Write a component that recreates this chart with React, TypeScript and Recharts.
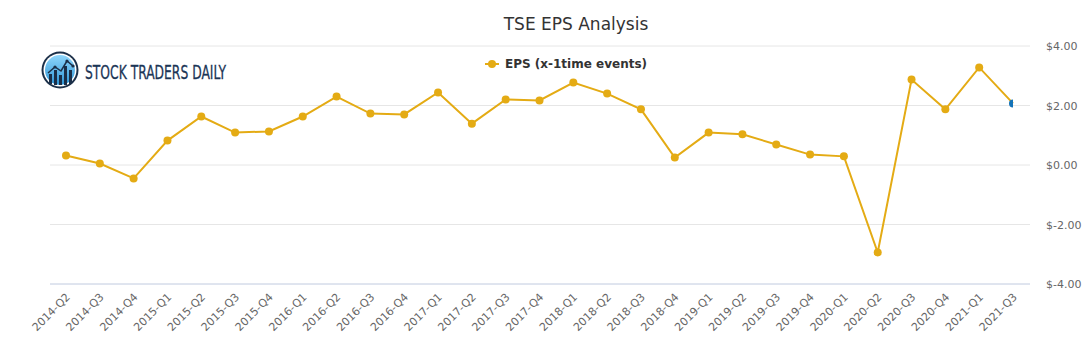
import React from 'react';
import { LineChart, Line, XAxis, YAxis, CartesianGrid } from 'recharts';

const quarters = [
  '2014-Q2', '2014-Q3', '2014-Q4', '2015-Q1', '2015-Q2', '2015-Q3', '2015-Q4',
  '2016-Q1', '2016-Q2', '2016-Q3', '2016-Q4', '2017-Q1', '2017-Q2', '2017-Q3',
  '2017-Q4', '2018-Q1', '2018-Q2', '2018-Q3', '2018-Q4', '2019-Q1', '2019-Q2',
  '2019-Q3', '2019-Q4', '2020-Q1', '2020-Q2', '2020-Q3', '2020-Q4', '2021-Q1', '2021-Q3',
];
const eps = [
  0.32, 0.05, -0.45, 0.82, 1.63, 1.09, 1.13,
  1.63, 2.3, 1.73, 1.7, 2.44, 1.39, 2.2,
  2.17, 2.77, 2.4, 1.87, 0.25, 1.09, 1.03,
  0.69, 0.35, 0.29, -2.94, 2.87, 1.87, 3.28, 2.07,
];
const yTicks = [-4, -2, 0, 2, 4];

const data = quarters.map((q, i) => ({ q, eps: eps[i] }));

const LINE = '#e4ab14';
const W = 1091;
const H = 350;

const fmt = (v: number) => (v < 0 ? `$-${Math.abs(v).toFixed(2)}` : `$${v.toFixed(2)}`);

const XTick = (props: any) => {
  const { x, y, payload } = props;
  return (
    <g transform={`translate(${x + 2},${y + 9})`}>
      <text
        x={0}
        y={0}
        dy="0.35em"
        textAnchor="end"
        transform="rotate(-45)"
        fill="#666"
        fontSize={11}
        fontFamily="DejaVu Sans, sans-serif"
      >
        {payload.value}
      </text>
    </g>
  );
};

const YTick = (props: any) => {
  const { x, y, payload } = props;
  return (
    <text
      x={x}
      y={y}
      dy="0.4em"
      textAnchor="start"
      fill="#666"
      fontSize={11}
      fontFamily="DejaVu Sans, sans-serif"
    >
      {fmt(payload.value)}
    </text>
  );
};

const Dot = (props: any) => {
  const { cx, cy, index } = props;
  if (index === data.length - 1) {
    const r = 4;
    return (
      <path
        key={`d${index}`}
        d={`M${cx},${cy - r} A${r},${r} 0 0 0 ${cx},${cy + r} Z`}
        fill="#1473b8"
      />
    );
  }
  return <circle key={`d${index}`} cx={cx} cy={cy} r={4} fill={LINE} />;
};

const Logo = () => (
  <g>
    <defs>
      <linearGradient id="lg" x1="0" y1="0" x2="0" y2="1">
        <stop offset="0%" stopColor="#8fd6fb" />
        <stop offset="100%" stopColor="#2e95d6" />
      </linearGradient>
    </defs>
    <circle cx={60} cy={70} r={18.5} fill="#1b2f48" />
    <circle cx={60} cy={70} r={16.5} fill="#ffffff" />
    <circle cx={60} cy={70} r={15} fill="url(#lg)" />
    <rect x={49} y={74} width={3} height={10} fill="#1b2f48" />
    <rect x={54} y={70} width={3} height={15} fill="#1b2f48" />
    <rect x={59} y={75} width={3} height={10} fill="#1b2f48" />
    <rect x={64} y={66} width={3} height={19} fill="#1b2f48" />
    <rect x={69} y={70} width={3} height={14} fill="#1b2f48" />
    <polyline points="48,73 55,67 61,71 67,61 73,66" fill="none" stroke="#1b2f48" strokeWidth={1.5} />
    <circle cx={55} cy={67} r={1.6} fill="#1b2f48" />
    <circle cx={67} cy={61} r={1.6} fill="#1b2f48" />
    <circle cx={73} cy={66} r={1.6} fill="#1b2f48" />
    <text
      x={85}
      y={78.5}
      fontSize={20}
      fontFamily="DejaVu Sans Condensed, DejaVu Sans, sans-serif"
      fill="#1b3556"
      stroke="#1b3556"
      strokeWidth={0.3}
      textLength={141}
      lengthAdjust="spacingAndGlyphs"
    >
      STOCK TRADERS DAILY
    </text>
  </g>
);

export default function App() {
  return (
    <div style={{ position: 'absolute', left: 0, top: 0, width: W, height: H, background: '#fff' }}>
      <LineChart
        width={W}
        height={H}
        data={data}
        margin={{ top: 46, right: 0, bottom: 0, left: 50 }}
      >
        <CartesianGrid vertical={false} stroke="#e6e6e6" />
        <XAxis
          dataKey="q"
          interval={0}
          height={66}
          tickLine={false}
          tickSize={0}
          padding={{ left: 16, right: 17 }}
          axisLine={{ stroke: '#ccd6eb' }}
          tick={<XTick />}
        />
        <YAxis
          orientation="right"
          width={61}
          domain={[-4, 4]}
          ticks={yTicks}
          axisLine={false}
          tickLine={false}
          tickSize={0}
          tickMargin={16}
          tick={<YTick />}
        />
        <Line
          dataKey="eps"
          stroke={LINE}
          strokeWidth={2}
          dot={<Dot />}
          activeDot={false}
          isAnimationActive={false}
        />
      </LineChart>
      <svg
        width={W}
        height={H}
        style={{ position: 'absolute', left: 0, top: 0, pointerEvents: 'none' }}
      >
        <text
          x={576}
          y={30}
          textAnchor="middle"
          fontSize={17}
          fill="#333"
          fontFamily="DejaVu Sans, sans-serif"
        >
          TSE EPS Analysis
        </text>
        <line x1={485} y1={64} x2={499} y2={64} stroke={LINE} strokeWidth={2} />
        <circle cx={492} cy={64} r={4} fill={LINE} />
        <text
          x={505}
          y={68}
          fontSize={12}
          fontWeight="bold"
          fill="#333"
          fontFamily="DejaVu Sans, sans-serif"
        >
          EPS (x-1time events)
        </text>
        <Logo />
      </svg>
    </div>
  );
}
